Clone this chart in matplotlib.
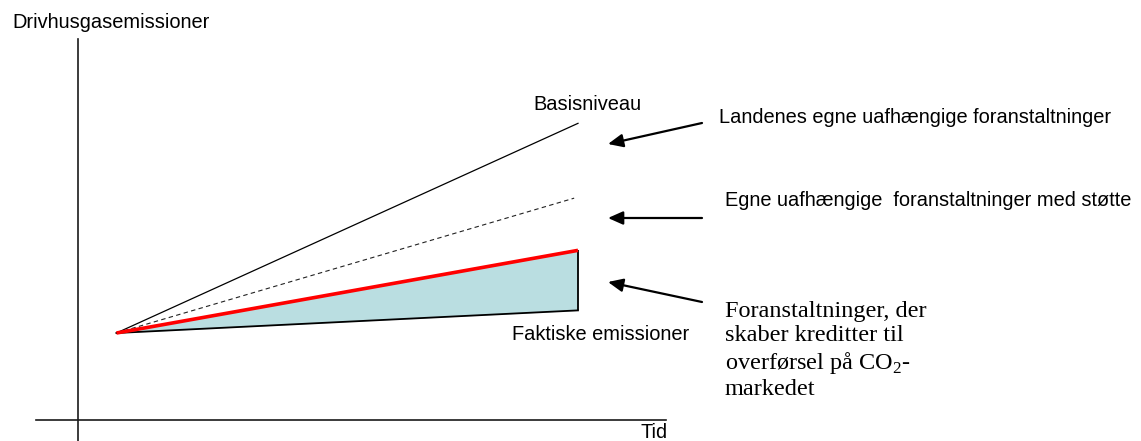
import matplotlib
matplotlib.use('Agg')
import matplotlib.pyplot as plt

# Figure size in pixels (dpi 100)
W, H = 1141, 441

# Data: time and emission levels (index, start level = 100)
time = [1, 13]
time_dashed = [1, 12.9]
basisniveau = [100, 341]
egne_med_stoette = [100, 255]
med_kreditter = [100, 195]
faktiske = [100, 126]

# Labels
y_label = 'Drivhusgasemissioner'
x_label = 'Tid'
basis_label = 'Basisniveau'
faktiske_label = 'Faktiske emissioner'
arrow_labels = ['Landenes egne uafhængige foranstaltninger',
                'Egne uafhængige  foranstaltninger med støtte']
kredit_label = 'Foranstaltninger, der\nskaber kreditter til\noverførsel på CO$_\\mathrm{2}$-\nmarkedet'

matplotlib.rcParams['font.family'] = 'Liberation Sans'
matplotlib.rcParams['font.size'] = 14.4
matplotlib.rcParams['mathtext.fontset'] = 'custom'
matplotlib.rcParams['mathtext.rm'] = 'Liberation Serif'

fig = plt.figure(figsize=(W / 100, H / 100), dpi=100)
ax = fig.add_axes([0, 0, 1, 1])
ax.axis('off')

# pixel mapping of the data scale: t=0 at x=78 px, t=13 at x=578 px; level 0 at y=420 px, 100 at y=333 px
x0, xs = 78, 500 / 13
y0, ys = 420, 0.87
ax.set_xlim(-x0 / xs, (W - x0) / xs)
ax.set_ylim(-(H - y0) / ys, y0 / ys)

# Axes lines
ax.axvline(0, ymin=0, ymax=1 - 39 / H, color='#1a1a1a', lw=1.2)
ax.axhline(0, xmin=36 / W, xmax=666 / W, color='#1a1a1a', lw=1.2)

# Series
ax.fill_between(time, faktiske, med_kreditter, color='#BADEE1', lw=0)
ax.plot(time, basisniveau, '-', color='black', lw=0.9)
ax.plot(time_dashed, egne_med_stoette, '--', color='#222222', lw=0.8, dashes=(4, 3))
ax.plot(time, faktiske, '-', color='black', lw=1.3)
ax.vlines(time[-1], faktiske[-1], med_kreditter[-1], color='black', lw=1.3)
ax.plot(time, med_kreditter, '-', color='red', lw=2.6, solid_capstyle='butt')

def fp(x, y):
    return (x, H - y)

# Texts
fig.text(12 / W, 1 - 23 / H, y_label, ha='left', va='center')
fig.text(668 / W, 1 - 438 / H, x_label, ha='right', va='baseline')
fig.text(533 / W, 1 - 104 / H, basis_label, ha='left', va='center')
fig.text(512 / W, 1 - 335 / H, faktiske_label, ha='left', va='center')
fig.text(719 / W, 1 - 117 / H, arrow_labels[0], ha='left', va='center')
fig.text(725 / W, 1 - 200 / H, arrow_labels[1], ha='left', va='center')
fig.text(725 / W, 1 - 301 / H, kredit_label, ha='left', va='top',
         family='Liberation Serif', fontsize=17.5, linespacing=1.2)

# Arrows
arrows = [((702, 123), (608, 144)),
          ((702, 218), (608, 218)),
          ((702, 302), (608, 282))]
for tail, head in arrows:
    ax.annotate('', xy=fp(*head), xycoords='figure pixels',
                xytext=fp(*tail), textcoords='figure pixels',
                arrowprops=dict(arrowstyle='-|>,head_length=0.45,head_width=0.2',
                                color='black', lw=1.6, mutation_scale=20,
                                shrinkA=0, shrinkB=0))

fig.savefig('out.png', dpi=100)
